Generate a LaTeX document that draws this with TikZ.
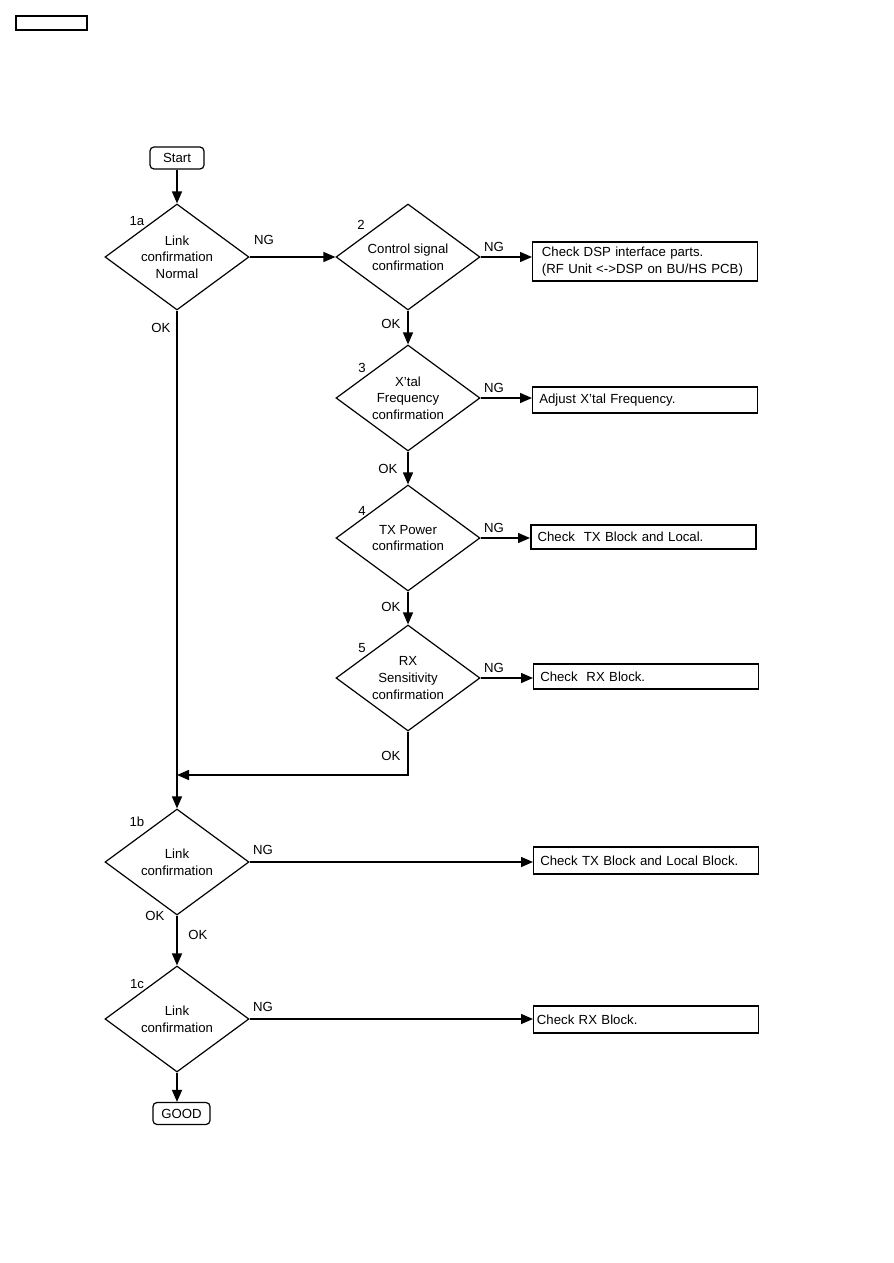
\documentclass[tikz,border=0pt]{standalone}
\usepackage{fontspec}
\setmainfont{Liberation Sans}
\usetikzlibrary{shapes.geometric,arrows.meta}

\tikzset{
  chart/.style={font=\fontsize{9.9}{12.5}\selectfont},
  decision/.style={draw,diamond,shape aspect=1.36,inner sep=0pt,minimum width=108pt,minimum height=79.5pt,align=center,line width=0.9pt},
  terminal/.style={draw,rounded corners=3pt,minimum height=16.5pt,inner sep=1pt,line width=0.9pt},
  action/.style={draw,anchor=west,inner xsep=5pt,inner ysep=0pt,text width=158.75pt,align=left,minimum height=#1,line width=0.9pt},
  action/.default=19.5pt,
  flow/.style={line width=1.1pt,-{Triangle[length=9pt,width=7.5pt]}},
  tag/.style={inner sep=0pt},
}

\begin{document}
\begin{tikzpicture}[x=0.75pt,y=0.75pt,yscale=-1,xscale=1,chart]
\useasboundingbox (0,0) rectangle (893,1263);
%Shape: Rectangle (page mark)
\draw [line width=0.8pt] (16,16) rectangle (87,30);

% Terminals
\node [terminal,minimum width=40.5pt] (start) at (177,158) {Start};
\node [terminal,minimum width=42.75pt] (good) at (181.5,1113.5) {GOOD};

% Decisions
\node [decision] (d1a) at (177,257) {Link\\confirmation\\Normal};
\node [decision] (d2) at (408,257) {Control signal\\confirmation};
\node [decision] (d3) at (408,398) {X'tal\\Frequency\\confirmation};
\node [decision] (d4) at (408,538) {TX Power\\confirmation};
\node [decision] (d5) at (408,678) {RX\\Sensitivity\\confirmation};
\node [decision] (d1b) at (177,862) {Link\\confirmation};
\node [decision] (d1c) at (177,1019) {Link\\confirmation};

% Step numbers
\node [tag] (n1a) at (137,221) {1a};
\node [tag] (n2) at (361,225) {2};
\node [tag] (n3) at (362,368) {3};
\node [tag] (n4) at (362,511) {4};
\node [tag] (n5) at (362,648) {5};
\node [tag] (n1b) at (137,822) {1b};
\node [tag] (n1c) at (137,984) {1c};

% Actions
\node [action=29.25pt,inner xsep=7pt,text width=154.75pt] (rdsp) at (532,261.5) {Check DSP interface parts.\\(RF Unit <->DSP on BU/HS PCB)};
\node [action] (rxtal) at (532,400) {Adjust X'tal Frequency.};
\node [action=18pt,line width=1.4pt] (rtx) at (530,537) {Check\ \ TX Block and Local.};
\node [action=18.75pt] (rrx) at (533,676.5) {Check\ \ RX Block.};
\node [action=20.25pt] (rtxl) at (533,860.5) {Check TX Block and Local Block.};
\node [action=20.25pt,inner xsep=2.5pt,text width=163.75pt] (rrxb) at (533,1019.5) {Check RX Block.};

%Straight Lines
\coordinate (join) at (177,775);
\draw [flow] (start) -- (d1a);
\draw [flow] (d1a.east) -- (d2.west);
\draw [flow] (d2.east) -- (d2.east -| rdsp.west);
\draw [flow] (d2.south) -- (d3.north);
\draw [flow] (d3.east) -- (d3.east -| rxtal.west);
\draw [flow] (d3.south) -- (d4.north);
\draw [flow] (d4.east) -- (d4.east -| rtx.west);
\draw [flow] (d4.south) -- (d5.north);
\draw [flow] (d5.east) -- (d5.east -| rrx.west);
\draw [flow] (d5.south) |- (join);
\draw [flow] (d1a.south) -- (d1b.north);
\draw [flow] (d1b.east) -- (d1b.east -| rtxl.west);
\draw [flow] (d1b.south) -- (d1c.north);
\draw [flow] (d1c.east) -- (d1c.east -| rrxb.west);
\draw [flow] (d1c.south) -- (d1c.south |- good.north);

% Text Node
\node [tag] (ng1a) at (264,240) {NG};
\node [tag] (ok1a) at (161,328) {OK};
\node [tag] (ng2) at (494,247) {NG};
\node [tag] (ok2) at (391,324) {OK};
\node [tag] (ng3) at (494,388) {NG};
\node [tag] (ok3) at (388,469) {OK};
\node [tag] (ng4) at (494,528) {NG};
\node [tag] (ok4) at (391,607) {OK};
\node [tag] (ng5) at (494,668) {NG};
\node [tag] (ok5) at (391,756) {OK};
\node [tag] (ng1b) at (263,850) {NG};
\node [tag] (ok1b) at (155,916) {OK};
\node [tag] (ok1bb) at (198,935) {OK};
\node [tag] (ng1c) at (263,1007) {NG};
\end{tikzpicture}
\end{document}
